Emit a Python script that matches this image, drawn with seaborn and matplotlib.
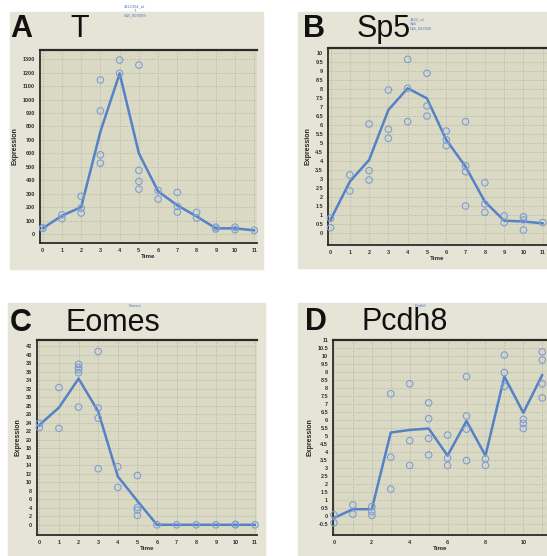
import numpy as np
import matplotlib
matplotlib.use("Agg")
import matplotlib.pyplot as plt
from matplotlib.patches import Rectangle
import seaborn as sns

sns.set_style("white")
plt.rcParams['font.family'] = ['Liberation Sans', 'DejaVu Sans']

# time points (same for all four genes)
times = list(range(12))

# panel A - T
t_mean = [42, 136, 200, 762, 1195, 600, 317, 213, 131, 42, 42, 27]
t_pts_x = [0, 0, 1, 1, 2, 2, 2, 3, 3, 3, 3, 4, 4, 5, 5, 5, 5, 6, 6, 7, 7, 7, 8, 8, 9, 9, 10, 10, 11]
t_pts_y = [42, 45, 143, 114, 280, 193, 156, 1146, 916, 589, 527, 1294, 1195,
           1257, 473, 391, 334, 324, 260, 309, 205, 163, 161, 119, 50, 37, 50, 32, 27]

# panel B - Sp5
sp5_mean = [0.74, 2.86, 4.06, 6.83, 8.03, 7.47, 5.17, 3.69, 1.75, 0.70, 0.65, 0.55]
sp5_pts_x = [0, 0, 1, 1, 2, 2, 2, 3, 3, 3, 4, 4, 4, 5, 5, 5, 6, 6, 6, 7, 7, 7, 7, 8, 8, 8, 9, 9, 10, 10, 10, 11]
sp5_pts_y = [0.83, 0.31, 3.23, 2.34, 6.05, 3.47, 2.95, 7.93, 5.76, 5.26, 9.63, 8.03, 6.18,
             8.86, 7.05, 6.49, 5.66, 5.17, 4.85, 6.18, 3.73, 3.41, 1.51, 2.80, 1.62, 1.16,
             0.96, 0.59, 0.92, 0.74, 0.18, 0.59]

# panel C - Eomes
eomes_mean = [23.5, 27.6, 34.4, 26.7, 11.4, 5.6, 0, 0, 0, 0, 0, 0]
eomes_pts_x = [0, 0, 1, 1, 2, 2, 2, 2, 2, 3, 3, 3, 3, 4, 4, 5, 5, 5, 5, 6, 7, 8, 9, 10, 10, 11]
eomes_pts_y = [23.9, 22.9, 32.3, 22.7, 37.8, 37.0, 36.5, 35.8, 27.7, 40.8, 27.5, 25.1, 13.2,
               13.7, 8.8, 11.6, 4.1, 3.5, 2.2, 0, 0, 0, 0, 0, 0.1, 0]

# panel D - Pcdh8
pcdh8_mean = [-0.1, 0.45, 0.45, 5.23, 5.39, 5.48, 3.79, 5.95, 3.79, 8.72, 6.46, 8.82]
pcdh8_pts_x = [0, 0, 1, 1, 2, 2, 2, 3, 3, 3, 4, 4, 4, 5, 5, 5, 5, 6, 6, 6, 7, 7, 7, 7,
               8, 8, 9, 9, 9, 10, 10, 10, 11, 11, 11, 11]
pcdh8_pts_y = [0.1, -0.4, 0.71, 0.14, 0.61, 0.30, 0.06, 7.65, 3.69, 1.70, 8.27, 4.72, 3.18,
               7.08, 6.09, 4.86, 3.83, 5.07, 3.63, 3.18, 8.72, 6.26, 5.44, 3.48,
               3.59, 3.18, 10.06, 8.97, 8.11, 6.05, 5.80, 5.48, 10.26, 9.75, 8.27, 7.39]

W, H = 547, 556
fig = plt.figure(figsize=(W / 100, H / 100), dpi=100)
fig.patch.set_facecolor('white')

line_col = '#5581c6'
pt_col = '#7d9ed4'
card_col = '#e5e4d6'
plot_col = '#dad9c4'


def px_rect(l, t, r, b):
    return [l / W, 1 - b / H, (r - l) / W, (b - t) / H]


# background cards (behind the axes)
for l, t, r, b in [(10, 12, 263, 269), (298, 12, 547, 268), (8, 303, 265, 558), (298, 303, 547, 555)]:
    fig.patches.append(Rectangle((l / W, 1 - b / H), (r - l) / W, (b - t) / H,
                                 transform=fig.transFigure, color=card_col, zorder=-5))

panels = [
    dict(box=(40, 50, 257, 243), mean=t_mean, px=t_pts_x, py=t_pts_y,
         xlim=(-0.14, 11.14), ylim=(-67, 1369), yticks=np.arange(0, 1301, 100), xticks=times),
    dict(box=(328, 48, 547, 245), mean=sp5_mean, px=sp5_pts_x, py=sp5_pts_y,
         xlim=(-0.13, 11.22), ylim=(-0.65, 10.26), yticks=np.arange(0, 10.01, 0.5), xticks=times),
    dict(box=(37, 340, 257, 535), mean=eomes_mean, px=eomes_pts_x, py=eomes_pts_y,
         xlim=(-0.12, 11.1), ylim=(-2.4, 43.5), yticks=np.arange(0, 42.1, 2), xticks=times),
    dict(box=(333, 340, 547, 535), mean=pcdh8_mean, px=pcdh8_pts_x, py=pcdh8_pts_y,
         xlim=(-0.05, 11.25), ylim=(-1.16, 10.86), yticks=np.arange(-0.5, 11.01, 0.5),
         xticks=[0, 2, 4, 6, 8, 10]),
]

for p in panels:
    ax = fig.add_axes(px_rect(*p['box']))
    ax.set_facecolor(plot_col)
    sns.lineplot(x=times, y=p['mean'], ax=ax, color=line_col, lw=1.8, zorder=3)
    sns.scatterplot(x=p['px'], y=p['py'], ax=ax, color=pt_col, facecolor='none',
                    edgecolor=pt_col, s=22, linewidth=0.8, zorder=4, clip_on=False)
    ax.set_xlim(*p['xlim'])
    ax.set_ylim(*p['ylim'])
    ax.set_xticks(p['xticks'])
    ax.set_xticklabels([str(v) for v in p['xticks']])
    ax.set_yticks(p['yticks'])
    ax.set_yticklabels(['%g' % v for v in p['yticks']])
    ax.tick_params(labelsize=4, length=1.5, width=0.5, pad=2, colors='#333333')
    for lab in ax.get_xticklabels() + ax.get_yticklabels():
        lab.set_fontweight('bold')
    ax.set_xticks(times, minor=True)
    ax.tick_params(which='minor', length=0)
    ax.grid(True, which='both', color='#b4b3a4', ls=(0, (2, 2)), lw=0.5)
    ax.set_axisbelow(True)
    ax.spines['right'].set_visible(False)
    ax.spines['top'].set_linewidth(1.6)
    ax.spines['left'].set_linewidth(1.3)
    ax.spines['bottom'].set_linewidth(1.3)
    for s in ['top', 'left', 'bottom']:
        ax.spines[s].set_color('#2a2a2a')
    ax.set_xlabel('Time', fontsize=4.5, fontweight='bold', labelpad=1)
    ax.set_ylabel('Expression', fontsize=5, fontweight='bold', labelpad=3)

# panel letters and gene names
big = 22
for letter, gene, lx, gx, by in [('A', 'T', 10, 70, 37), ('B', 'Sp5', 303, 357, 37),
                                 ('C', 'Eomes', 10, 65, 331), ('D', 'Pcdh8', 305, 361, 330)]:
    fig.text(lx / W, 1 - by / H, letter, fontsize=big, fontweight='bold', color='#111111')
    fig.text(gx / W, 1 - by / H, gene, fontsize=big, color='#111111')

# small probe annotations
blue_txt = '#5a7fc0'
fig.text(135 / W, 1 - 11 / H, '4112304_at\nT\nNM_009309', fontsize=3, color=blue_txt,
         ha='center', va='center', linespacing=1.1)
fig.text(410 / W, 1 - 24 / H, '1422_at\nSp5\nNM_022436', fontsize=3, color=blue_txt,
         ha='left', va='center', linespacing=1.1)
fig.text(135 / W, 1 - 306 / H, 'Eomes', fontsize=3, color=blue_txt, ha='center', va='center')
fig.text(420 / W, 1 - 306 / H, 'Pcdh8', fontsize=3, color=blue_txt, ha='center', va='center')

fig.savefig('out.png', dpi=100)
